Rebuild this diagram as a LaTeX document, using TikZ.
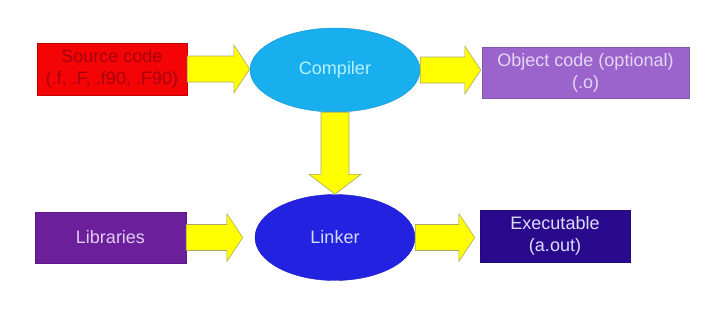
\documentclass[tikz,border=0pt]{standalone}
\usepackage{fontspec}
\setmainfont{Liberation Sans}
\usetikzlibrary{shapes.geometric,calc}
\definecolor{srcfill}{HTML}{F40404}
\definecolor{srctext}{HTML}{A80010}
\definecolor{compfill}{HTML}{19AEEE}
\definecolor{comptext}{HTML}{B8F2FF}
\definecolor{objfill}{HTML}{9B64CC}
\definecolor{objtext}{HTML}{E4D6F4}
\definecolor{libfill}{HTML}{6B1F9A}
\definecolor{libtext}{HTML}{E2CCF2}
\definecolor{linkfill}{HTML}{2222E0}
\definecolor{linktext}{HTML}{D4DCFF}
\definecolor{exefill}{HTML}{2A0A8C}
\definecolor{exetext}{HTML}{DCDCFF}
\definecolor{arrowfill}{HTML}{FFFF00}
\definecolor{arrowline}{HTML}{A8A868}
\tikzset{
  box/.style={rectangle, inner sep=0pt, align=center, font=\fontsize{18}{22}\selectfont},
  oval/.style={ellipse, inner sep=0pt, align=center, font=\fontsize{18}{22}\selectfont},
  fatarrow/.style={fill=arrowfill, draw=arrowline, line width=0.6pt, line join=miter}
}
\newcommand\fatH[3][0pt]{%
  \path[fatarrow] let \p1=#2, \p2=#3 in
    (\x1,\y1+13pt) -- (\x2-#1-16pt,\y1+13pt) -- (\x2-#1-16pt,\y1+24pt) -- (\x2-#1,\y1)
    -- (\x2-#1-16pt,\y1-24pt) -- (\x2-#1-16pt,\y1-13pt) -- (\x1,\y1-13pt) -- cycle;}
\newcommand\fatV[2]{%
  \path[fatarrow] let \p1=#1, \p2=#2 in
    (\x1-14pt,\y1) -- (\x1-14pt,\y2+20pt) -- (\x1-26pt,\y2+20pt) -- (\x1,\y2)
    -- (\x1+26pt,\y2+20pt) -- (\x1+14pt,\y2+20pt) -- (\x1+14pt,\y1) -- cycle;}
\begin{document}
\begin{tikzpicture}[x=1pt,y=-1pt]
  \useasboundingbox[fill=white] (0,0) rectangle (720,325);
  \node[box, fill=srcfill, draw=srcfill!80!black, text=srctext, minimum width=150pt, minimum height=52pt] (src) at (112,69) {Source code\\(.f, .F, .f90, .F90)};
  \node[oval, fill=compfill, draw=compfill!85!black, text=comptext, minimum width=170pt, minimum height=84pt] (comp) at (335,70) {Compiler};
  \node[box, fill=objfill, draw=objfill!85!black, text=objtext, minimum width=207pt, minimum height=51pt] (obj) at (585.5,72.5) {Object code (optional)\\(.o)};
  \node[box, fill=libfill, draw=libfill!85!black, text=libtext, minimum width=151pt, minimum height=51pt] (lib) at (110.5,237.5) {Libraries};
  \node[oval, fill=linkfill, draw=linkfill!85!black, text=linktext, minimum width=160pt, minimum height=86pt] (link) at (335,237.5) {Linker};
  \node[box, fill=exefill, draw=exefill!85!black, text=exetext, minimum width=150pt, minimum height=52pt] (exe) at (555,236) {Executable\\(a.out)};
  \fatH{(src.east)}{(comp.west)}
  \fatH[1pt]{(comp.east)}{(obj.west)}
  \fatV{(comp.south)}{(link.north)}
  \fatH[12pt]{(lib.east)}{(link.west)}
  \fatH[5pt]{(link.east)}{(exe.west)}
\end{tikzpicture}
\end{document}
